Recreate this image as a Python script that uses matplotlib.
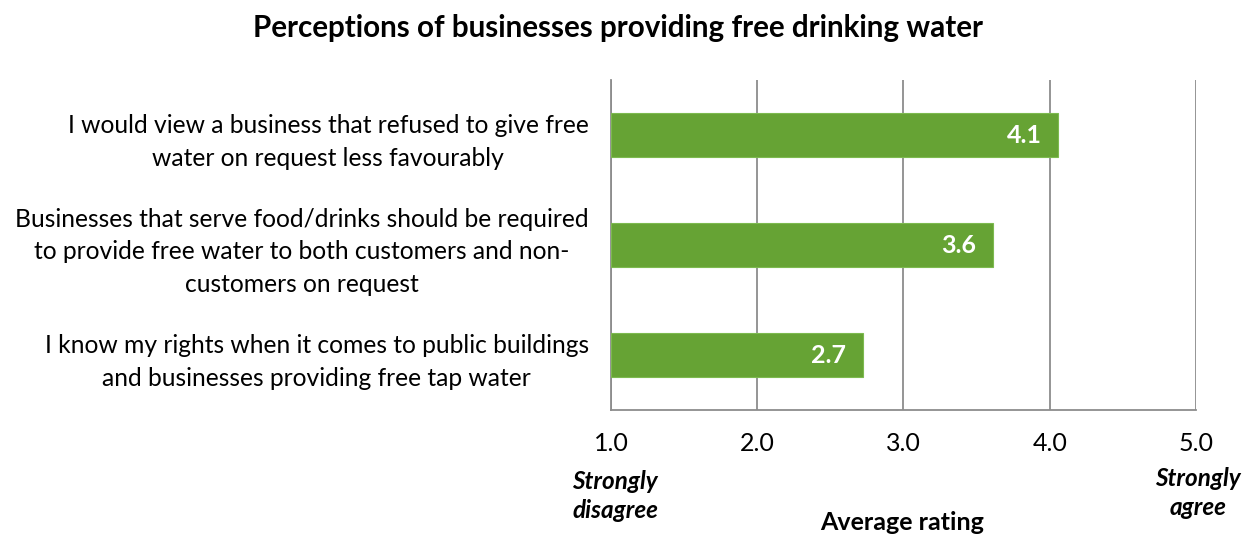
import numpy as np
import matplotlib.pyplot as plt

plt.rcParams['font.family'] = ['Lato', 'DejaVu Sans']

statements = [
    "I would view a business that refused to give free\nwater on request less favourably",
    "Businesses that serve food/drinks should be required\nto provide free water to both customers and non-\ncustomers on request",
    "I know my rights when it comes to public buildings\nand businesses providing free tap water",
]
ratings = [4.06, 3.61, 2.72]
labels = ["4.1", "3.6", "2.7"]
ticks = [1.0, 2.0, 3.0, 4.0, 5.0]

green = '#66a334'
grey = '#8c8c8c'

fig = plt.figure(figsize=(12.51, 5.38), dpi=100)
ax = fig.add_axes([0.4884, 0.2379, 0.4676, 0.6134])

y = np.arange(len(statements))[::-1]
base = 1.0
ax.barh(y, np.array(ratings) - base, left=base, height=0.4, color=green,
        edgecolor='#7dba4f', linewidth=0.8, zorder=3)

for yi, r, lab in zip(y, ratings, labels):
    ax.text(r - 0.11, yi, lab, ha='right', va='center', color='white',
            fontsize=18, fontweight='bold', zorder=4)

ax.set_xlim(1, 5)
ax.set_ylim(-0.5, 2.5)
ax.set_xticks(ticks)
ax.set_xticklabels([f"{t:.1f}" for t in ticks], fontsize=18)
ax.set_yticks(y)
ax.set_yticklabels(statements, fontsize=17.7, ha='right', multialignment='center',
                   linespacing=1.5)
ax.tick_params(axis='x', length=0, pad=16)
ax.tick_params(axis='y', length=0, pad=16)
ax.grid(axis='x', color=grey, linewidth=1.3, zorder=0)
for s in ['top', 'right']:
    ax.spines[s].set_visible(False)
for s in ['left', 'bottom']:
    ax.spines[s].set_color(grey)
    ax.spines[s].set_linewidth(1.3)

fig.text(618 / 1251, 1 - 28 / 538, "Perceptions of businesses providing free drinking water",
         ha='center', va='center', fontsize=21.3, fontweight='bold')
fig.text(615 / 1251, 1 - 496 / 538, "Strongly\ndisagree", ha='center', va='center',
         fontsize=17.5, fontweight='bold', fontstyle='italic', linespacing=1.3)
fig.text(1198 / 1251, 1 - 493 / 538, "Strongly\nagree", ha='center', va='center',
         fontsize=17.5, fontweight='bold', fontstyle='italic', linespacing=1.3)
fig.text(902 / 1251, 1 - 523 / 538, "Average rating", ha='center', va='center',
         fontsize=18, fontweight='bold')

fig.savefig('out.png', dpi=100)
